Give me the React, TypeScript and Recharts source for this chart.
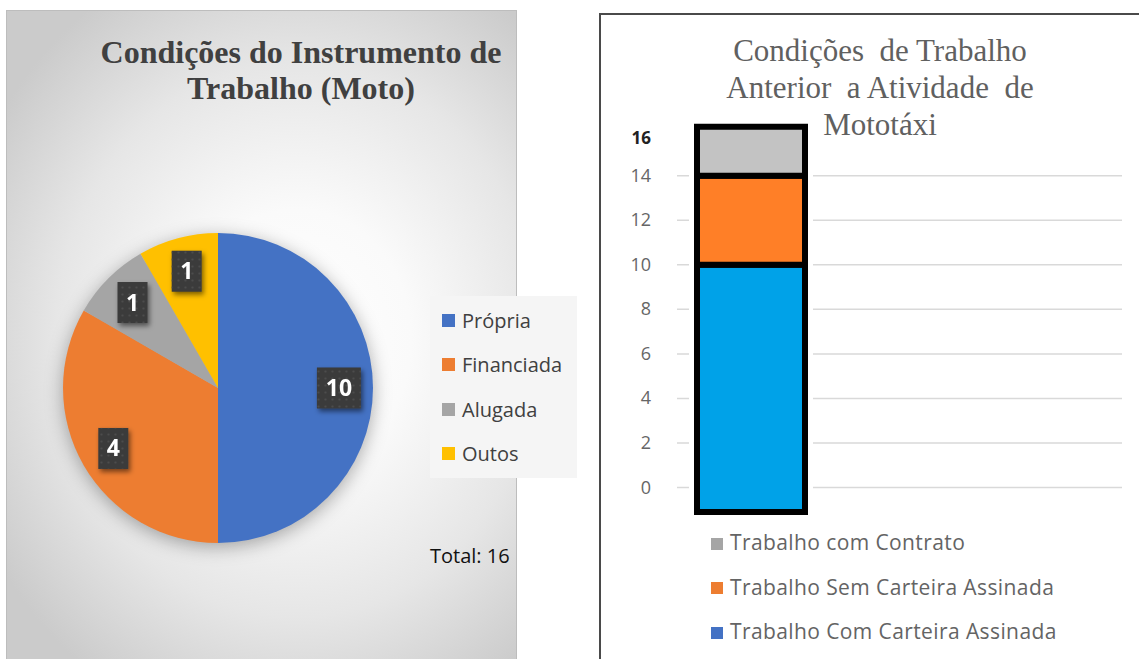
import React from 'react';
import { PieChart, Pie, Cell, BarChart, Bar, XAxis, YAxis, CartesianGrid, Legend } from 'recharts';

// Left chart: motorcycle ownership
const pieCategories = ['Própria', 'Financiada', 'Alugada', 'Outos'];
const pieShares = [6, 4, 1, 1]; // slice sizes as drawn
const pieLabels = [10, 4, 1, 1]; // numbers printed on the slices
const pieColors = ['#4472C4', '#ED7D31', '#A5A5A5', '#FFC000'];
const pieTotal = 16;

// Right chart: previous work conditions (legend order, top to bottom)
const barSeries = ['Trabalho com Contrato', 'Trabalho Sem Carteira Assinada', 'Trabalho Com Carteira Assinada'];
const contratoRange = [14, 16.2];
const semCarteiraRange = [10, 14];
const comCarteiraRange = [-1.1, 10];
const barColors = ['#C3C3C3', '#FF7F27', '#00A2E8'];
const barLegendColors = ['#A5A5A5', '#ED7D31', '#4472C4'];
const yTicks = [0, 2, 4, 6, 8, 10, 12, 14, 16];
const gridTicks = [0, 2, 4, 6, 8, 10, 12, 14];

const pieData = pieCategories.map((name, i) => ({ name, value: pieShares[i] }));

const barData = [
  {
    name: 'Mototáxi',
    contrato: contratoRange,
    sem: semCarteiraRange,
    com: comCarteiraRange,
    halo: [comCarteiraRange[0], contratoRange[1]],
  },
];

const RADIAN = Math.PI / 180;

function PieValueLabel(props: any) {
  const { cx, cy, midAngle, outerRadius, index } = props;
  const r = outerRadius * 0.78;
  const x = cx + r * Math.cos(-midAngle * RADIAN);
  const y = cy + r * Math.sin(-midAngle * RADIAN);
  const text = String(pieLabels[index]);
  const w = text.length > 1 ? 44 : 30;
  const h = 41;
  return (
    <g>
      <rect x={x - w / 2} y={y - h / 2} width={w} height={h} fill="#3a3a3a" filter="url(#boxShadow)" />
      <rect x={x - w / 2} y={y - h / 2} width={w} height={h} fill="url(#dots)" />
      <text
        x={x}
        y={y}
        dy={8}
        textAnchor="middle"
        fill="#ffffff"
        fontSize={23}
        fontWeight={700}
        fontFamily="'Open Sans', sans-serif"
      >
        {text}
      </text>
    </g>
  );
}

function PieLegend() {
  return (
    <div
      style={{
        width: 147,
        height: 182,
        background: '#f5f5f5',
        boxSizing: 'border-box',
        paddingTop: 2,
        paddingLeft: 12,
      }}
    >
      {pieCategories.map((name, i) => (
        <div key={name} style={{ display: 'flex', alignItems: 'center', height: 44.5 }}>
          <span style={{ width: 13, height: 13, background: pieColors[i], marginRight: 7 }} />
          <span style={{ fontFamily: "'Open Sans', sans-serif", fontSize: 20, color: '#404040' }}>{name}</span>
        </div>
      ))}
    </div>
  );
}

function BarLegend() {
  return (
    <div>
      {barSeries.map((name, i) => (
        <div key={name} style={{ display: 'flex', alignItems: 'center', height: 44.5 }}>
          <span style={{ width: 12, height: 12, background: barLegendColors[i], marginRight: 7, marginTop: 3 }} />
          <span
            style={{
              fontFamily: "'Open Sans', sans-serif",
              fontSize: 21,
              letterSpacing: 0.4,
              color: '#646464',
            }}
          >
            {name}
          </span>
        </div>
      ))}
    </div>
  );
}

function YTick(props: any) {
  const { x, y, payload } = props;
  const top = payload.value === 16;
  return (
    <text
      x={x}
      y={y}
      dy={top ? 13 : 6}
      textAnchor="end"
      fontFamily="'Open Sans', sans-serif"
      fontSize={top ? 17 : 18}
      fontWeight={top ? 700 : 400}
      fill={top ? '#222222' : '#666666'}
    >
      {payload.value}
    </text>
  );
}

export default function App() {
  return (
    <div style={{ position: 'absolute', left: 0, top: 0, width: 1139, height: 659, background: '#ffffff', overflow: 'hidden' }}>
      <style>{`.pie-wrap svg.recharts-surface { filter: drop-shadow(0 4px 9px rgba(0,0,0,0.32)); }`}</style>
      <svg width={0} height={0} style={{ position: 'absolute' }}>
        <defs>
          <pattern id="dots" width="7" height="7" patternUnits="userSpaceOnUse">
            <circle cx="3.5" cy="3.5" r="1.1" fill="#4c4c4c" />
          </pattern>
          <filter id="boxShadow" x="-40%" y="-40%" width="180%" height="180%">
            <feDropShadow dx="2" dy="3" stdDeviation="2.5" floodColor="#000000" floodOpacity="0.5" />
          </filter>
        </defs>
      </svg>

      {/* Left panel: pie */}
      <div
        className="pie-wrap"
        style={{
          position: 'absolute',
          left: 6,
          top: 10,
          width: 511,
          height: 660,
          boxSizing: 'border-box',
          border: '1px solid #bdbdbd',
          background:
            'radial-gradient(ellipse 70% 62% at 57% 50%, #ffffff 0%, #fafafa 32%, #e6e6e6 68%, #cbcbcb 100%)',
        }}
      >
        <div
          style={{
            position: 'absolute',
            left: 0,
            top: 23,
            width: 588,
            textAlign: 'center',
            fontFamily: "'Liberation Serif', 'Times New Roman', serif",
            fontWeight: 700,
            fontSize: 32,
            lineHeight: '36px',
            color: '#404040',
          }}
        >
          Condições do Instrumento de
          <br />
          Trabalho (Moto)
        </div>
        <PieChart width={509} height={648} margin={{ top: 0, right: 0, bottom: 0, left: 0 }}>
          <Pie
            data={pieData}
            dataKey="value"
            nameKey="name"
            cx={211}
            cy={377}
            outerRadius={155}
            startAngle={90}
            endAngle={-270}
            stroke="none"
            label={PieValueLabel}
            labelLine={false}
            isAnimationActive={false}
          >
            {pieData.map((d, i) => (
              <Cell key={d.name} fill={pieColors[i]} />
            ))}
          </Pie>
          <Legend
            layout="vertical"
            align="center"
            verticalAlign="middle"
            wrapperStyle={{ left: 423, top: 285, width: 147 }}
            content={() => <PieLegend />}
          />
        </PieChart>
        <div
          style={{
            position: 'absolute',
            left: 423,
            top: 531,
            fontFamily: "'Open Sans', sans-serif",
            fontSize: 20,
            color: '#111111',
          }}
        >
          Total: {pieTotal}
        </div>
      </div>

      {/* Right panel: stacked bar */}
      <div
        style={{
          position: 'absolute',
          left: 599,
          top: 13,
          width: 560,
          height: 660,
          borderLeft: '2.5px solid #4a4a4a',
          borderTop: '2.5px solid #4a4a4a',
        }}
      />
      <div
        style={{
          position: 'absolute',
          left: 600,
          top: 0,
          width: 539,
          height: 659,
        }}
      >
        <BarChart
          width={539}
          height={659}
          data={barData}
          margin={{ top: 120, right: 17, bottom: 138, left: 10 }}
          barGap={-108}
        >
          <CartesianGrid vertical={false} horizontalValues={gridTicks} stroke="#d9d9d9" strokeWidth={1.5} />
          <XAxis dataKey="name" hide padding={{ left: 0, right: 297 }} />
          <YAxis
            domain={[-1.5, 16.5]}
            ticks={yTicks}
            interval={0}
            allowDataOverflow
            width={67}
            axisLine={false}
            tickLine={false}
            tickSize={0}
            tickMargin={26}
            tick={<YTick />}
          />
          <Bar dataKey="halo" barSize={108} fill="none" stroke="#ffffff" strokeWidth={16} isAnimationActive={false} />
          <Bar dataKey="com" barSize={108} fill={barColors[2]} stroke="#000000" strokeWidth={6} isAnimationActive={false} />
          <Bar dataKey="sem" barSize={108} fill={barColors[1]} stroke="#000000" strokeWidth={6} isAnimationActive={false} />
          <Bar dataKey="contrato" barSize={108} fill={barColors[0]} stroke="#000000" strokeWidth={6} isAnimationActive={false} />
          <Legend
            layout="vertical"
            align="center"
            verticalAlign="middle"
            wrapperStyle={{ left: 111, top: 520, width: 430 }}
            content={() => <BarLegend />}
          />
        </BarChart>
        <div
          style={{
            position: 'absolute',
            left: 0,
            top: 32,
            width: 560,
            textAlign: 'center',
            whiteSpace: 'pre',
            fontFamily: "'Liberation Serif', 'Times New Roman', serif",
            fontSize: 31,
            lineHeight: '37px',
            color: '#606060',
          }}
        >
          {'Condições  de Trabalho\nAnterior  a Atividade  de\nMototáxi'}
        </div>
      </div>
    </div>
  );
}
